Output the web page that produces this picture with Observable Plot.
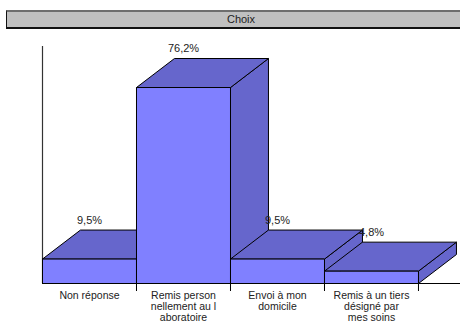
<!DOCTYPE html>
<html>
<head>
<meta charset="utf-8">
<script src="https://cdn.jsdelivr.net/npm/d3@7"></script>
<script src="https://cdn.jsdelivr.net/npm/@observablehq/plot@0.6"></script>
<style>
  html, body { margin: 0; padding: 0; background: #fff; overflow: hidden; }
  body { width: 460px; height: 323px; font-family: "Liberation Sans", Arial, sans-serif; }
  #wrap { position: relative; width: 460px; }
  #title {
    position: absolute; left: 6px; top: 10px; width: 468px; height: 15px;
    background: #c0c0c0; border-top: 2px solid #6e6e6e; border-left: 1px solid #111;
    border-bottom: 2px solid #111; font-size: 11px; line-height: 15px; text-align: center; color: #222;
    box-sizing: content-box;
  }
  #chart { position: absolute; left: 0; top: 30px; }
  svg { display: block; }
</style>
</head>
<body>
<div id="wrap">
  <div id="title">Choix</div>
  <div id="chart"></div>
</div>
<script>
const categories = ["Non réponse", "Remis person\nnellement au l\naboratoire", "Envoi à mon\ndomicile", "Remis à un tiers\ndésigné par\nmes soins"];
const values = [9.5, 76.2, 9.5, 4.8];
const valueLabels = ["9,5%", "76,2%", "9,5%", "4,8%"];

// depth of the 3D effect, in data units (x: bar widths, y: percent)
const depthX = 0.404;
const depthY = 11.28;

const fronts = [], tops = [], sides = [];
values.forEach((v, i) => {
  [[i, 0], [i + 1, 0], [i + 1, v], [i, v], [i, 0]].forEach(([x, y]) => fronts.push({i, x, y}));
  [[i, v], [i + depthX, v + depthY], [i + 1 + depthX, v + depthY], [i + 1, v], [i, v]].forEach(([x, y]) => tops.push({i, x, y}));
  [[i + 1, 0], [i + 1 + depthX, depthY], [i + 1 + depthX, v + depthY], [i + 1, v], [i + 1, 0]].forEach(([x, y]) => sides.push({i, x, y}));
});
const labelData = values.map((v, i) => ({x: i + 0.5, y: v + depthY, label: valueLabels[i]}));
const catData = categories.map((c, i) => ({x: i + 0.5, label: c}));
const tickData = categories.map((c, i) => i + 1);

const pxPerUnit = (253 - 16) / 92.15;

const chart = Plot.plot({
  width: 460,
  height: 293,
  marginLeft: 42,
  marginRight: 0,
  marginTop: 16,
  marginBottom: 40,
  x: {type: "linear", domain: [0, 4.447], axis: null},
  y: {type: "linear", domain: [0, 92.15], axis: null},
  style: {fontFamily: "Liberation Sans, Arial, sans-serif", background: "white"},
  marks: [
    Plot.ruleX([0], {stroke: "#333", strokeWidth: 1.2}),
    Plot.ruleY([0], {stroke: "#000", strokeWidth: 1}),
    Plot.ruleX(tickData, {y1: 0, y2: -8 / pxPerUnit, stroke: "#000", strokeWidth: 1}),
    Plot.line(sides, {x: "x", y: "y", z: "i", fill: "#6666cc", stroke: "#000", strokeWidth: 1, curve: "linear"}),
    Plot.line(tops, {x: "x", y: "y", z: "i", fill: "#6666cc", stroke: "#000", strokeWidth: 1, curve: "linear"}),
    Plot.line(fronts, {x: "x", y: "y", z: "i", fill: "#8080ff", stroke: "#000", strokeWidth: 1, curve: "linear"}),
    Plot.text(labelData, {x: "x", y: "y", text: "label", dy: -10, fontSize: 11, fill: "#222"}),
    Plot.text(catData, {x: "x", y: () => 0, text: "label", lineAnchor: "top", dy: 8, fontSize: 10.5, lineHeight: 1.05, fill: "#222"})
  ]
});
document.getElementById("chart").appendChild(chart);
</script>
</body>
</html>
